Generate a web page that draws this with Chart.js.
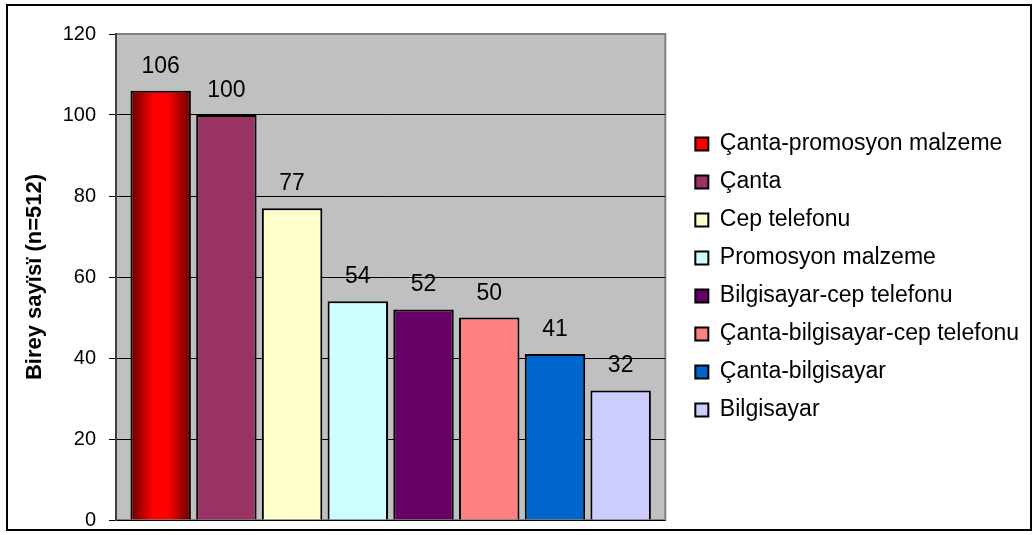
<!DOCTYPE html>
<html>
<head>
<meta charset="utf-8">
<script src="https://cdn.jsdelivr.net/npm/chart.js@4/dist/chart.umd.min.js"></script>
<style>
  html, body { margin: 0; padding: 0; background: #fff; }
  canvas { display: block; }
</style>
</head>
<body>
<canvas id="myChart" width="1035" height="535"></canvas>
<script>
const categories = [
  'Çanta-promosyon malzeme',
  'Çanta',
  'Cep telefonu',
  'Promosyon malzeme',
  'Bilgisayar-cep telefonu',
  'Çanta-bilgisayar-cep telefonu',
  'Çanta-bilgisayar',
  'Bilgisayar'
];
const counts = [106, 100, 77, 54, 52, 50, 41, 32];
const barColors = ['#FF0000', '#993366', '#FFFFCC', '#CCFFFF', '#660066', '#FF8080', '#0066CC', '#CCCCFF'];
const yMax = 120;
const yStep = 20;
const yTitle = 'Birey sayïsï (n=512)';

Chart.defaults.font.family = "'Liberation Sans', Arial, sans-serif";
Chart.defaults.color = '#000';

// grey plot background with its border, plus the frame round the whole chart
const plotFrame = {
  id: 'plotFrame',
  beforeDraw(chart) {
    const { ctx, chartArea: a } = chart;
    ctx.save();
    ctx.fillStyle = '#C0C0C0';
    ctx.fillRect(a.left, a.top, a.right - a.left, a.bottom - a.top);
    ctx.strokeStyle = '#808080';
    ctx.lineWidth = 2;
    ctx.strokeRect(a.left, a.top, a.right - a.left, a.bottom - a.top);
    ctx.restore();
  },
  afterDraw(chart) {
    const ctx = chart.ctx;
    ctx.save();
    ctx.strokeStyle = '#000';
    ctx.lineWidth = 2;
    ctx.strokeRect(7, 5, 1024, 525);
    ctx.restore();
  }
};

// push the legend a bit away from the plot
const legendShift = {
  id: 'legendShift',
  afterLayout(chart) {
    const lg = chart.legend;
    const w = lg.right - lg.left;
    lg.left = chart.chartArea.right + 15;
    lg.right = lg.left + w;
  }
};

// first bar gets the dark-red / red / dark-red shading
const firstBarShade = {
  id: 'firstBarShade',
  afterDatasetsUpdate(chart) {
    const bar = chart.getDatasetMeta(0).data[0];
    if (!bar || !isFinite(bar.x)) return;
    const left = bar.x - bar.width / 2;
    const right = bar.x + bar.width / 2;
    const g = chart.ctx.createLinearGradient(left, 0, right, 0);
    g.addColorStop(0, '#660000');
    g.addColorStop(0.38, '#FF0000');
    g.addColorStop(0.62, '#FF0000');
    g.addColorStop(1, '#660000');
    bar.options = Object.assign({}, bar.options, { backgroundColor: g });
  }
};

// value written above each bar
const valueLabels = {
  id: 'valueLabels',
  afterDatasetsDraw(chart) {
    const ctx = chart.ctx;
    ctx.save();
    ctx.font = "23px 'Liberation Sans', Arial, sans-serif";
    ctx.fillStyle = '#000';
    ctx.textAlign = 'center';
    ctx.textBaseline = 'alphabetic';
    chart.data.datasets.forEach((ds, i) => {
      const bar = chart.getDatasetMeta(i).data[0];
      ctx.fillText(String(ds.data[0]), bar.x, bar.y - 18);
    });
    ctx.restore();
  }
};

init();

function init() {
  createChart();
}

function createChart() {
  const ctx = document.getElementById('myChart').getContext('2d');

  const datasets = categories.map((name, i) => ({
    label: name,
    data: [counts[i]],
    backgroundColor: barColors[i],
    borderColor: '#000',
    borderWidth: 2,
    categoryPercentage: 0.957,
    barPercentage: 0.92
  }));

  new Chart(ctx, {
    type: 'bar',
    data: {
      labels: [''],
      datasets: datasets
    },
    plugins: [plotFrame, legendShift, firstBarShade, valueLabels],
    options: {
      responsive: false,
      animation: false,
      events: [],
      layout: {
        padding: { left: 0, top: 34, right: 21, bottom: 15 }
      },
      scales: {
        x: {
          display: false
        },
        y: {
          min: 0,
          max: yMax,
          afterFit(scale) {
            scale.width = 116;
            scale.paddingTop = 0;
            scale.paddingBottom = 0;
          },
          ticks: {
            stepSize: yStep,
            padding: 13,
            font: { size: 20 },
            color: '#000'
          },
          grid: {
            color: (c) => (c.tick && c.tick.value === yMax ? '#808080' : '#000'),
            tickColor: '#000',
            tickLength: 7,
            lineWidth: 1
          },
          border: { color: '#404040', width: 2 },
          title: {
            display: true,
            text: yTitle,
            font: { size: 22, weight: 'bold' },
            color: '#000',
            padding: { top: 22, bottom: 0 }
          }
        }
      },
      plugins: {
        legend: {
          position: 'right',
          fullSize: false,
          maxWidth: 360,
          labels: {
            font: { size: 23 },
            color: '#000',
            boxWidth: 13,
            boxHeight: 13,
            padding: 15
          }
        },
        tooltip: { enabled: false }
      }
    }
  });
}
</script>
</body>
</html>
